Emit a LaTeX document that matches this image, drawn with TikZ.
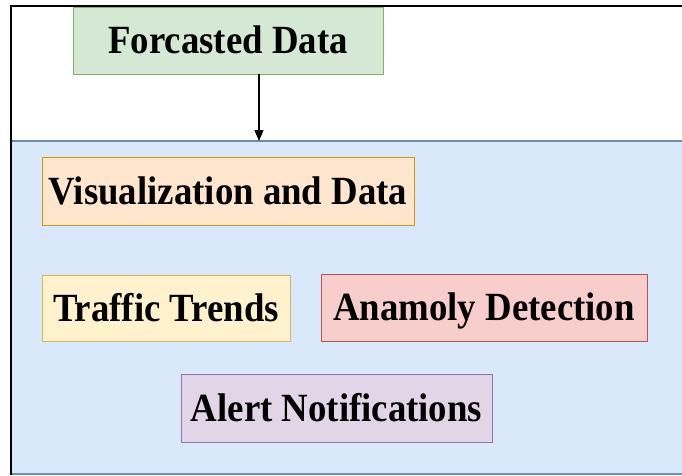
\documentclass[tikz,border=0pt]{standalone}
\usepackage{fontspec}
\setmainfont{Liberation Serif}
\newfontfamily\boxfont[FakeStretch=0.92]{Liberation Serif}
\usetikzlibrary{arrows.meta}
\definecolor{gfill}{HTML}{D5E8D4}\definecolor{gline}{HTML}{82B366}
\definecolor{ofill}{HTML}{FFE6CC}\definecolor{oline}{HTML}{D79B00}
\definecolor{yfill}{HTML}{FFF2CC}\definecolor{yline}{HTML}{D6B656}
\definecolor{rfill}{HTML}{F8CECC}\definecolor{rline}{HTML}{B85450}
\definecolor{pfill}{HTML}{E1D5E7}\definecolor{pline}{HTML}{9673A6}
\definecolor{bfill}{HTML}{DAE8FC}\definecolor{bline}{HTML}{6C8EBF}
\tikzset{
  box/.style={draw, line width=0.8pt, inner sep=0pt, anchor=center,
    text height=26pt, text depth=0pt,
    font=\boxfont\fontsize{40}{43}\selectfont\bfseries, text=black},
}
\begin{document}
\begin{tikzpicture}[x=1pt,y=-1pt]
\useasboundingbox (0,0) rectangle (682,475);
\fill[white] (0,0) rectangle (682,475);
% blue container
\fill[bfill] (11,141) rectangle (682,475);
\draw[bline!70!gray, line width=1.2pt] (11,141) -- (682,141);
\draw[bline, line width=1.2pt] (11,474) -- (682,474);
% outer frame
\draw[black, line width=1.5pt] (11,475) -- (11,6) -- (682,6);
\coordinate (tgt) at (259,141);
% boxes
\node[box, fill=gfill, draw=gline, minimum width=310pt, minimum height=67pt] (fd) at (228,40.5) {Forcasted Data};
\node[box, fill=ofill, draw=oline, minimum width=372pt, minimum height=68pt] (vd) at (228,191) {Visualization and Data};
\node[box, fill=yfill, draw=yline, minimum width=248pt, minimum height=66pt] (tt) at (166,308) {Traffic Trends};
\node[box, fill=rfill, draw=rline, minimum width=326pt, minimum height=67pt] (ad) at (484,307.5) {Anamoly Detection};
\node[box, fill=pfill, draw=pline, minimum width=311pt, minimum height=68pt] (an) at (336.5,408) {Alert Notifications};
% arrow
\draw[-{Triangle[length=11pt,width=9pt]}, line width=1.3pt] (fd.south -| tgt) -- (tgt);
\end{tikzpicture}
\end{document}
